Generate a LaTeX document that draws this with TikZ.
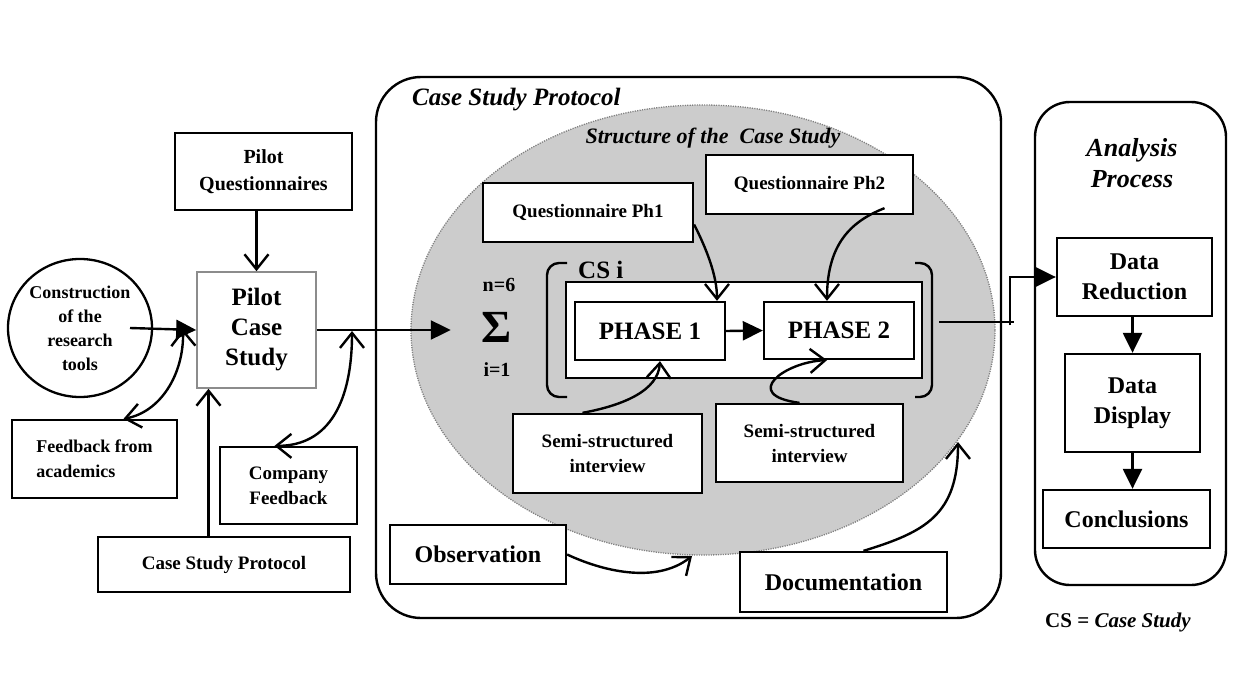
\documentclass[tikz,border=0pt]{standalone}
\usepackage{fontspec}
\setmainfont{Liberation Serif}
\usetikzlibrary{arrows.meta,shapes.geometric,calc}
\begin{document}
\begin{tikzpicture}[x=1pt,y=-1pt,
  box/.style={draw, line width=2.3pt, fill=white, align=center, inner sep=0pt},
  fs/.style 2 args={font=\bfseries\fontsize{#1}{#2}\selectfont},
  fsi/.style 2 args={font=\bfseries\itshape\fontsize{#1}{#2}\selectfont},
  conn/.style={line width=2.4pt},
  vee/.style={conn, -{Straight Barb[length=15pt,width=24pt]}},
  vv/.style={conn, {Straight Barb[length=15pt,width=24pt]}-{Straight Barb[length=15pt,width=24pt]}},
  tri/.style={conn, -{Triangle[length=20pt,width=19pt]}},
  container/.style={draw, line width=2.4pt, inner sep=0pt}
]
\useasboundingbox (0,0) rectangle (1235,674);

% ---------- pilot stage ----------
\node[box, fs={20}{27}, minimum width=177, minimum height=77] (pq) at (263.5,171.5) {Pilot\\Questionnaires};
\node[box, draw=black!45, line width=1.6pt, fs={25}{30}, minimum width=119, minimum height=116] (pcs) at (256.5,330) {Pilot\\Case\\Study};
\node[draw, ellipse, line width=2.3pt, fill=white, inner sep=0pt, align=center, fs={18}{24}, minimum width=144, minimum height=138] (constr) at (80,328) {Construction\\of the\\research\\tools};
\node[box, align=left, fs={18}{25}, minimum width=165, minimum height=78] (fba) at (94.5,459) {Feedback from\\academics};
\node[box, fs={19}{25}, minimum width=137, minimum height=77] (cf) at (288.5,485.5) {Company\\Feedback};
\node[box, fs={19}{24}, minimum width=252, minimum height=55] (csp) at (224,564.5) {Case Study Protocol};

% ---------- case study protocol ----------
\node[container, rounded corners=45, minimum width=625, minimum height=541] (prot) at (688.5,347.5) {};
\node[ellipse, draw=black!50, dash pattern=on 1.2pt off 1.2pt, line width=1.3pt, fill=black!20, minimum width=584, minimum height=450, inner sep=0pt] (struct) at (703,330) {};
\node[anchor=west, inner sep=0pt, fsi={25}{30}] (prottitle) at (412,100) {Case Study Protocol};
\node[inner sep=0pt, fsi={22}{26}] (structtitle) at (713,138) {Structure of the\ \ Case Study};

\node[box, fs={19}{24}, minimum width=210, minimum height=59] (q1) at (588,212.5) {Questionnaire Ph1};
\node[box, fs={19}{24}, minimum width=207, minimum height=59] (q2) at (809.5,184.5) {Questionnaire Ph2};

\node[box, minimum width=356, minimum height=96] (csf) at (744,330) {};
\draw[line width=2.4pt, rounded corners=12] (567,263) -- (547,263) -- (547,397) -- (567,397);
\draw[line width=2.4pt, rounded corners=12] (915,263) -- (932,263) -- (932,397) -- (915,397);
\node[anchor=west, inner sep=0pt, fs={25}{30}] (csi) at (578,270) {CS i};

\node[box, fs={25}{30}, minimum width=150, minimum height=58] (p1) at (650,331) {PHASE 1};
\node[box, fs={25}{30}, minimum width=150, minimum height=57] (p2) at (839,330.5) {PHASE 2};

\node[inner sep=0pt, fs={20}{24}] (nsix) at (499,285) {n=6};
\node[inner sep=0pt, fs={46}{46}] (sig) at (497,327) {Σ};
\node[inner sep=0pt, fs={20}{24}] (ione) at (497,370) {i=1};

\node[box, fs={19}{25}, minimum width=189, minimum height=79] (semi1) at (607.5,453.5) {Semi-structured\\interview};
\node[box, fs={19}{25}, minimum width=187, minimum height=78] (semi2) at (809.5,443) {Semi-structured\\interview};

\node[box, fs={24}{28}, minimum width=176, minimum height=59] (obs) at (478,554.5) {Observation};
\node[box, fs={24}{28}, minimum width=207, minimum height=60] (doc) at (843.5,582) {Documentation};

% ---------- analysis process ----------
\node[container, rounded corners=35, minimum width=191, minimum height=483] (ana) at (1130.5,343.5) {};
\node[inner sep=0pt, align=center, fsi={26}{31}] (anatitle) at (1132,163.5) {Analysis\\Process};
\node[box, fs={24}{30}, minimum width=155, minimum height=78] (dr) at (1134.5,277) {Data\\Reduction};
\node[box, fs={24}{30}, minimum width=135, minimum height=98] (dd) at (1132.5,403) {Data\\Display};
\node[box, fs={24}{30}, minimum width=167, minimum height=58] (conc) at (1126.5,519) {Conclusions};
\node[inner sep=0pt, fs={21}{25}] (legend) at (1118,622) {CS = \textit{Case Study}};

% ---------- connectors: pilot stage ----------
\draw[vee] (pq.south -| pcs.north) -- (pcs.north);
\draw[tri] ($(constr.center)+(50,0)$) -- (pcs.west);
\coordinate (j1) at (183,329);
\draw[vv] ($(fba.north)+(29,0)$) .. controls (160,412) and (184,375) .. (j1);
\coordinate (pcsb) at ($(pcs.south)+(-48,0)$);
\draw[vee] (pcsb |- csp.north) -- (pcsb);
\path (sig.west |- pcs.east) ++(-31,0) coordinate (sigin);
\draw[tri] (pcs.east) -- (sigin);
\coordinate (j2) at (352,331);
\draw[vv] ($(cf.north)+(-14,0)$) .. controls (330,446) and (352,400) .. (j2);

% ---------- connectors: case study ----------
\draw[tri] (p1.east) -- (p2.west);
\draw[vee] ($(q1.east)+(0,12)$) .. controls (706,248) and (717,275) .. ($(p1.north)+(67,0)$);
\draw[vee] ($(q2.south)+(75,-7)$) .. controls (855,220) and (827,240) .. ($(p2.north)+(-12,0)$);
\draw[vee] ($(semi1.north)+(-25,0)$) .. controls (625,405) and (658,390) .. ($(p1.south)+(10,0)$);
\draw[vee] ($(semi2.north)+(-10,0)$) .. controls (740,395) and (785,362) .. ($(p2.south)+(-12,0)$);
\coordinate (e1) at (692,556);
\draw[vee] (obs.east) .. controls (600,570) and (655,585) .. (e1);
\coordinate (e2) at (958,442);
\draw[vee] ($(doc.north)+(20,0)$) .. controls (925,532) and (958,515) .. (e2);

% ---------- connectors: analysis ----------
\coordinate (o1) at ($(csf.east)+(16,-8)$);
\coordinate (knee) at (1010,322);
\draw[conn] (o1) -- ($(knee)+(4,0)$);
\draw[tri] ($(knee)+(0,3)$) |- (dr.west);
\draw[tri] (dd.north |- dr.south) -- (dd.north);
\draw[tri] (dd.south) -- (dd.south |- conc.north);
\end{tikzpicture}
\end{document}
